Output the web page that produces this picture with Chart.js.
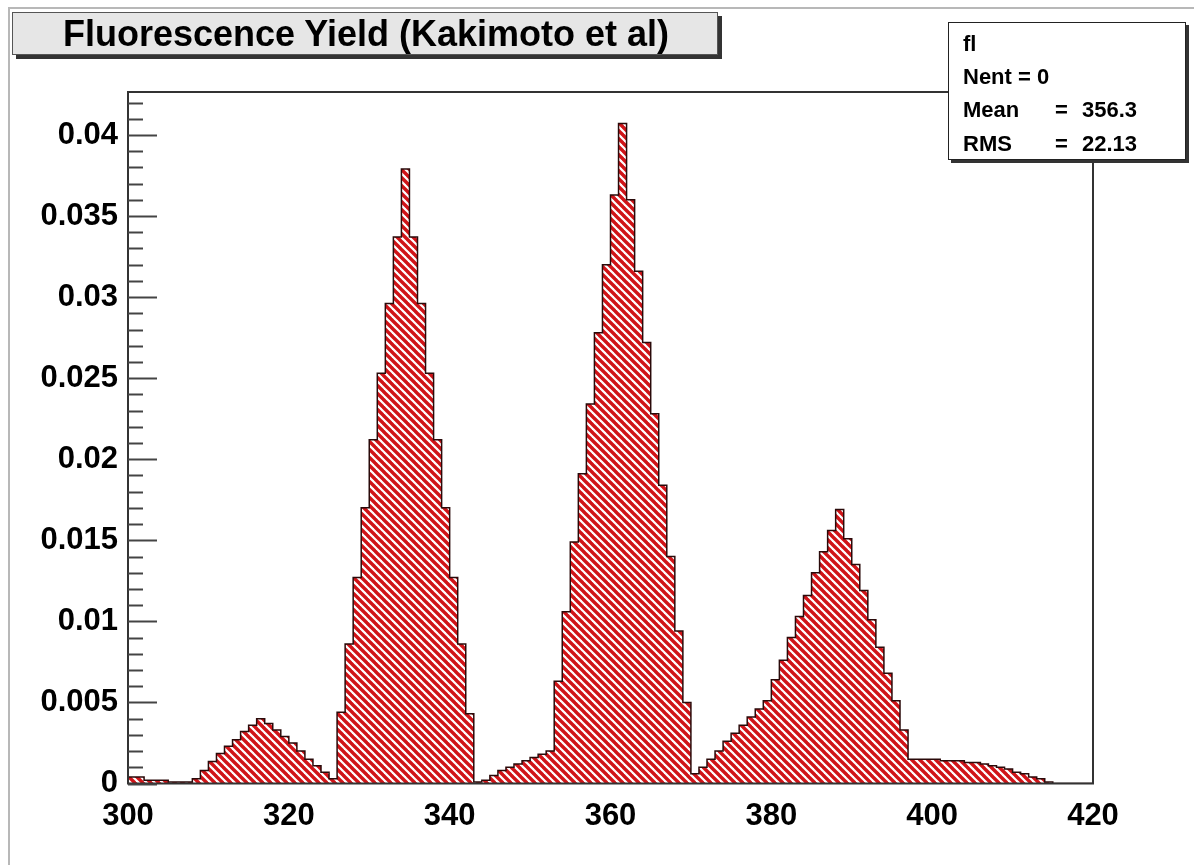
<!DOCTYPE html>
<html>
<head>
<meta charset="utf-8">
<script src="https://cdn.jsdelivr.net/npm/chart.js@4.4.1/dist/chart.umd.min.js"></script>
<style>
  html, body { margin: 0; padding: 0; background: #fff; }
  #wrap { position: relative; width: 1194px; height: 865px; overflow: hidden; }
  #pad { position: absolute; left: 8px; top: 7px; right: -10px; bottom: -10px; border-left: 2px solid #b8b8b8; border-top: 2px solid #b8b8b8; }
  #title {
    position: absolute; left: 12px; top: 12px; width: 702px; height: 41px;
    background: #e6e6e6; border: 1px solid #555; box-shadow: 4px 4px 0 #333;
    font: bold 36px "Liberation Sans", Arial, sans-serif; color: #000;
    text-align: center; line-height: 41px; box-sizing: content-box; padding-left: 2px;
  }
  #stats {
    position: absolute; left: 948px; top: 22px; width: 236px; height: 136px;
    background: #fff; border: 1px solid #222; box-shadow: 3px 3px 0 #333;
    font: bold 22px "Liberation Sans", Arial, sans-serif; color: #000;
  }
  #stats div { position: absolute; left: 14px; white-space: pre; }
  #stats span { position: absolute; }
  #stats span.eq { left: 92px; }
  #stats span.v { left: 119px; }
</style>
</head>
<body>
<div id="wrap">
  <canvas id="chart" width="1194" height="865"></canvas>
  <div id="pad"></div>
  <div id="title">Fluorescence Yield (Kakimoto et al)</div>
  <div id="stats">
    <div style="top:8px">fl</div>
    <div style="top:41px">Nent = 0</div>
    <div style="top:74px">Mean<span class="eq">=</span><span class="v">356.3</span></div>
    <div style="top:108px">RMS<span class="eq">=</span><span class="v">22.13</span></div>
  </div>
</div>
<script>
// histogram range (1 nm bins)
const xLow = 300;
const xHigh = 420;
const xTicks = [300, 320, 340, 360, 380, 400, 420];
const yTicks = [0, 0.005, 0.01, 0.015, 0.02, 0.025, 0.03, 0.035, 0.04];

// fluorescence yield per bin, 300..419 nm
const yieldValues = [
  0.0004, 0.0004, 0.0002, 0.0002, 0.0002, 0.0001, 0.0001, 0.0001, 0.0003, 0.0008,
  0.00135, 0.00185, 0.0023, 0.0027, 0.0032, 0.0036, 0.0040, 0.0037, 0.0033, 0.0029,
  0.0025, 0.0020, 0.0015, 0.0011, 0.0007, 0.0003, 0.0044, 0.0086, 0.0127, 0.0170,
  0.0212, 0.0253, 0.0296, 0.0337, 0.0379, 0.0337, 0.0296, 0.0253, 0.0212, 0.0170,
  0.0127, 0.0086, 0.0043, 0.0001, 0.0002, 0.0005, 0.0008, 0.0010, 0.0012, 0.0014,
  0.0016, 0.0018, 0.0020, 0.0063, 0.0106, 0.0149, 0.0191, 0.0234, 0.0278, 0.0320,
  0.0363, 0.0407, 0.0360, 0.0316, 0.0272, 0.0228, 0.0184, 0.0140, 0.0094, 0.0050,
  0.0006, 0.0010, 0.0015, 0.0020, 0.0026, 0.0031, 0.0036, 0.0041, 0.0046, 0.0051,
  0.0064, 0.0076, 0.0090, 0.0103, 0.0116, 0.0130, 0.0143, 0.0156, 0.0169, 0.0151,
  0.0135, 0.0119, 0.0101, 0.0084, 0.0068, 0.0051, 0.0033, 0.0015, 0.0015, 0.0015,
  0.0015, 0.0014, 0.0014, 0.0014, 0.0013, 0.0013, 0.0012, 0.0011, 0.0010, 0.0009,
  0.0007, 0.0006, 0.0004, 0.0003, 0.0001, 0, 0, 0, 0, 0
];

// step points at bin low edges, closed at the upper edge
const points = yieldValues.map((v, i) => ({ x: xLow + i, y: v }));
points.push({ x: xHigh, y: 0 });

function makeHatch() {
  const c = document.createElement('canvas');
  c.width = 8; c.height = 8;
  const g = c.getContext('2d');
  g.fillStyle = '#ffffff';
  g.fillRect(0, 0, 8, 8);
  g.strokeStyle = '#d01418';
  g.lineWidth = 3.4;
  for (const x0 of [-8, 0, 8]) {
    g.beginPath();
    g.moveTo(x0 - 1, -1);
    g.lineTo(x0 + 9, 9);
    g.stroke();
  }
  return g.createPattern(c, 'repeat');
}

// ROOT style frame + inward ticks on the y axis
const framePlugin = {
  id: 'frame',
  afterDatasetsDraw(chart) {
    const { ctx, chartArea: a, scales } = chart;
    const y = scales.y;
    ctx.save();
    ctx.strokeStyle = '#333';
    ctx.lineWidth = 2;
    ctx.strokeRect(a.left, a.top, a.right - a.left, a.bottom - a.top);
    ctx.strokeStyle = '#444';
    for (let k = 0; k <= 42; k++) {
      const v = k * 0.001;
      if (v > y.max) break;
      const py = Math.round(y.getPixelForValue(v)) + 0.5;
      const len = (k % 5 === 0) ? 29 : 15;
      ctx.beginPath();
      ctx.moveTo(a.left, py);
      ctx.lineTo(a.left + len, py);
      ctx.stroke();
    }
    ctx.restore();
  }
};

new Chart(document.getElementById('chart'), {
  type: 'line',
  data: {
    datasets: [{
      label: 'fl',
      data: points,
      stepped: true,
      fill: 'origin',
      backgroundColor: makeHatch(),
      borderColor: '#2a0a0a',
      borderWidth: 1.5,
      pointRadius: 0,
      tension: 0
    }]
  },
  options: {
    responsive: false,
    animation: false,
    devicePixelRatio: 1,
    layout: { padding: { left: 0, top: 92, right: 101, bottom: 0 } },
    plugins: { legend: { display: false }, tooltip: { enabled: false } },
    scales: {
      x: {
        type: 'linear',
        min: xLow,
        max: xHigh,
        afterFit: (s) => { s.height = 81.5; },
        afterBuildTicks: (s) => { s.ticks = xTicks.map(v => ({ value: v })); },
        grid: { display: false, drawTicks: false },
        border: { display: false },
        ticks: {
          padding: 14,
          color: '#000',
          font: { family: 'Liberation Sans', weight: 'bold', size: 31 },
          maxRotation: 0
        }
      },
      y: {
        min: 0,
        max: 0.04265,
        afterFit: (s) => { s.width = 128; },
        afterBuildTicks: (s) => { s.ticks = yTicks.map(v => ({ value: v })); },
        grid: { display: false, drawTicks: false },
        border: { display: false },
        ticks: {
          padding: 10,
          color: '#000',
          font: { family: 'Liberation Sans', weight: 'bold', size: 31 },
          callback: (v) => String(+v.toFixed(3))
        }
      }
    }
  },
  plugins: [framePlugin]
});
</script>
</body>
</html>
